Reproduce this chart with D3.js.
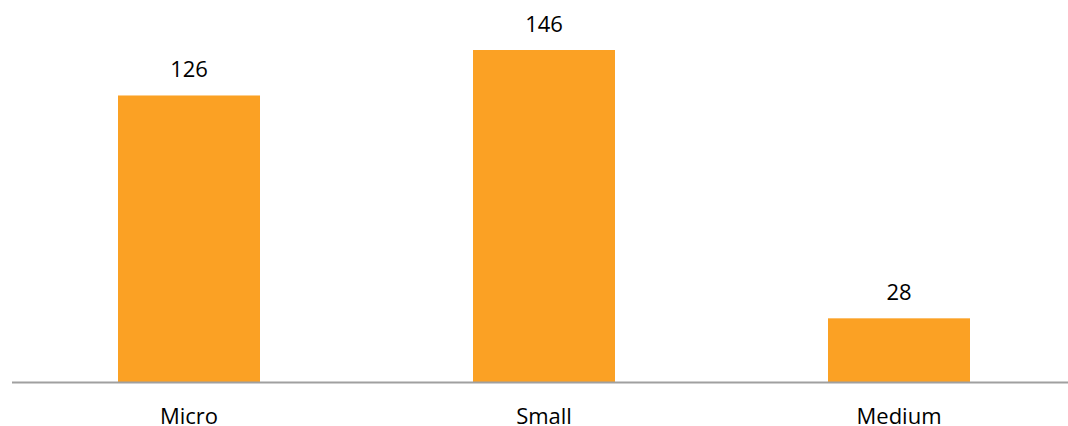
<!DOCTYPE html>
<html><head><meta charset="utf-8">
<script src="https://cdn.jsdelivr.net/npm/d3@7"></script>
<style>html,body{margin:0;padding:0;background:#fff;overflow:hidden}</style>
</head><body>
<svg id="c" width="1068" height="426"></svg>
<script>
const categories = ["Micro", "Small", "Medium"];
const values = [126, 146, 28];

const svg = d3.select("#c");
const baseY = 382;
const x = d3.scaleBand().domain(categories).range([11.5, 1076.5]).paddingInner(0.6).paddingOuter(0.3);
const y = d3.scaleLinear().domain([0, 146]).range([baseY, 50]);

svg.selectAll("rect.bar").data(categories).enter().append("rect")
  .attr("x", d => x(d)).attr("width", x.bandwidth())
  .attr("y", (d, i) => y(values[i])).attr("height", (d, i) => baseY - y(values[i]))
  .attr("fill", "#FBA124");

svg.selectAll("text.val").data(categories).enter().append("text")
  .attr("x", d => x(d) + x.bandwidth() / 2)
  .attr("y", (d, i) => y(values[i]) - 18)
  .attr("text-anchor", "middle")
  .attr("font-family", "'Open Sans', sans-serif").attr("font-size", 22).attr("fill", "#000")
  .text((d, i) => values[i]);

const ax = svg.append("g").attr("transform", `translate(0,${baseY})`)
  .call(d3.axisBottom(x).tickSize(0).tickPadding(26));
ax.select(".domain").attr("stroke", "#a0a0a0").attr("stroke-width", 2);
ax.selectAll("text").attr("font-family", "'Open Sans', sans-serif").attr("font-size", 22).attr("fill", "#000");
</script>
</body></html>
